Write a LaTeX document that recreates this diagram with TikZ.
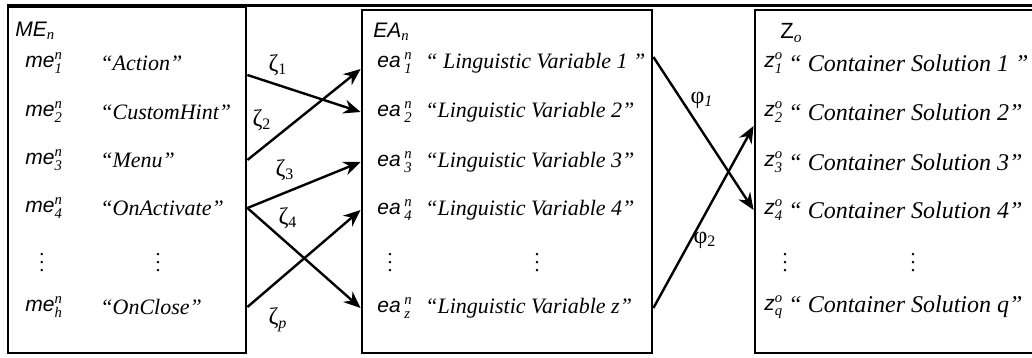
\documentclass[tikz,border=0pt]{standalone}
\usepackage{amsmath}
\usepackage{fontspec}
\setmainfont{Liberation Serif}
\setsansfont{Liberation Sans}
\usetikzlibrary{arrows.meta, positioning, calc}

\tikzset{
  panel/.style={draw, line width=1.4pt, inner sep=0pt},
  item/.style={anchor=west, inner sep=0pt, font=\fontsize{11}{13}\selectfont\itshape},
  elem/.style={anchor=west, inner sep=0pt, font=\fontsize{10.5}{12}\selectfont\sffamily\itshape},
  link/.style={-{Stealth[length=8.5pt,width=7pt]}, line width=1.2pt},
  map/.style={inner sep=0pt, font=\fontsize{12}{14}\selectfont},
}
% element with upper and lower index
\newcommand{\el}[3]{#1$^{\text{\rmfamily\itshape #2}}_{\text{\rmfamily\itshape #3}}$}

\begin{document}
\begin{tikzpicture}[x=0.5pt, y=-0.5pt]
\useasboundingbox (0,0) rectangle (1032,358);

% the three sets
\node[panel, minimum width=119pt, minimum height=173pt] (box1) at (127,180) {};
\node[panel, minimum width=145pt, minimum height=171.5pt] (box2) at (507,181.5) {};
\node[panel, minimum width=140.5pt, minimum height=171.5pt] (box3) at (895.5,181.5) {};
\coordinate (rim) at (1032,6);
\draw[line width=1.4pt] (box1.north west) -- (box1.north west -| rim);

% first set
\node[elem] (mehead) at (15,31) {ME$_{\text{\rmfamily\itshape n}}$};
\foreach \n/\y/\t in {1/63/Action, 2/112/CustomHint, 3/160/Menu, 4/208/OnActivate, h/307/OnClose} {
  \node[elem] (me\n) at (25,\y) {\el{me}{n}{\n}};
  \node[item] (met\n) at (100,\y) {“\t”};
}
\node (medots) at (42,257) {$\vdots$};
\node (metdots) at (158,257) {$\vdots$};

% second set
\node[elem] (eahead) at (373,32) {EA$_{\text{\rmfamily\itshape n}}$};
\foreach \n/\y/\t in {1/63/“ Linguistic Variable 1 ”, 2/112/“Linguistic Variable 2”,
    3/162/“Linguistic Variable 3”, 4/210/“Linguistic Variable 4”, z/308/“Linguistic Variable z”} {
  \node[elem] (ea\n) at (377,\y) {\el{ea\,}{n}{\n}};
  \node[item] (eat\n) at (425,\y) {\t};
}
\node (eadots) at (390,257) {$\vdots$};
\node (eatdots) at (537,257) {$\vdots$};

% third set
\node[elem, font=\fontsize{11}{13}\selectfont\sffamily] (zhead) at (780,33) {Z$_{\text{\rmfamily\itshape o}}$};
\foreach \n/\y/\t in {1/63/“ Container Solution 1 ”, 2/112/“ Container Solution 2”,
    3/162/“ Container Solution 3”, 4/210/“ Container Solution 4”, q/307/“ Container Solution q”} {
  \node[elem] (z\n) at (764,\y) {\el{z}{o}{\n}};
  \node[item, font=\fontsize{12}{14}\selectfont\itshape] (zt\n) at (788,\y) {\t};
}
\node (zdots) at (785,257) {$\vdots$};
\node (ztdots) at (913,257) {$\vdots$};

% mappings zeta
\draw[link] ([yshift=-6pt]met1 -| box1.east) -- (eat2 -| box2.west);
\draw[link] (met3 -| box1.east) -- ([yshift=-3pt]eat1 -| box2.west);
\draw[link] (met4 -| box1.east) -- (eat3 -| box2.west);
\draw[link] (met4 -| box1.east) -- (eatz -| box2.west);
\draw[link] (meth -| box1.east) -- (eat4 -| box2.west);
\node[map] (zeta1) at (278,65) {ζ\textsubscript{1}};
\node[map] (zeta2) at (262,120) {ζ\textsubscript{2}};
\node[map] (zeta3) at (285,170) {ζ\textsubscript{3}};
\node[map] (zeta4) at (288,218) {ζ\textsubscript{4}};
\node[map] (zetap) at (278,320) {ζ\textsubscript{\itshape p}};

% mappings phi
\draw[link] ([yshift=3pt]eat1 -| box2.east) -- (zt4 -| box3.west);
\draw[link] (eatz -| box2.east) -- ([yshift=-7pt]zt2 -| box3.west);
\node[map] (phi1) at (702,100) {φ\textsubscript{\itshape 1}};
\node[map] (phi2) at (705,240) {φ\textsubscript{2}};
\end{tikzpicture}
\end{document}
